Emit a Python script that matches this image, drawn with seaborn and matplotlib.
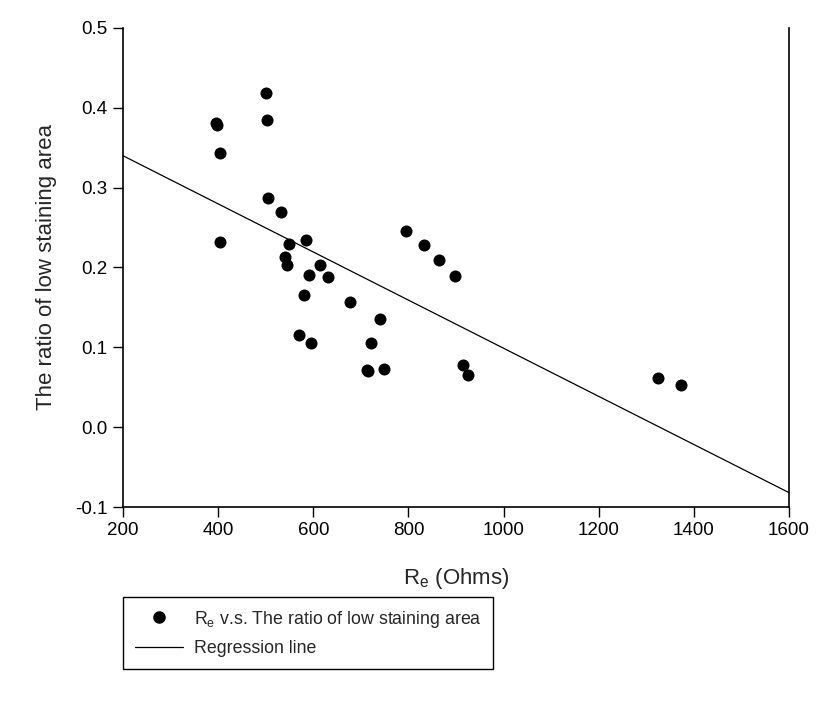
import matplotlib
matplotlib.use("Agg")
import matplotlib.pyplot as plt
import seaborn as sns
import pandas as pd
from matplotlib.lines import Line2D

# Data
re_ohms = [396, 397, 404, 403, 500, 502, 504, 532, 540, 545, 549, 584, 590, 580,
           570, 595, 615, 630, 678, 713, 715, 722, 740, 748, 795, 833, 865, 897,
           915, 925, 1325, 1372]
low_ratio = [0.381, 0.378, 0.344, 0.232, 0.418, 0.385, 0.287, 0.270, 0.213, 0.203,
             0.229, 0.235, 0.190, 0.165, 0.115, 0.105, 0.203, 0.188, 0.157, 0.072,
             0.070, 0.106, 0.136, 0.073, 0.246, 0.228, 0.210, 0.189, 0.078, 0.065,
             0.062, 0.053]
reg_x = [200, 1600]
reg_y = [0.340, -0.082]
x_ticks = [200, 400, 600, 800, 1000, 1200, 1400, 1600]
y_ticks = [-0.1, 0.0, 0.1, 0.2, 0.3, 0.4, 0.5]

sns.set_style("white")
plt.rcParams['font.family'] = ['Liberation Sans', 'DejaVu Sans']
plt.rcParams['mathtext.fontset'] = 'custom'
plt.rcParams['mathtext.rm'] = 'Liberation Sans'
plt.rcParams['mathtext.it'] = 'Liberation Sans'

fig = plt.figure(figsize=(8.39, 7.01), dpi=100)
ax = fig.add_axes([123/839, 1-507/701, (789-123)/839, (507-28)/701])

df = pd.DataFrame({"x": re_ohms, "y": low_ratio})
dreg = pd.DataFrame({"x": reg_x, "y": reg_y})
sns.scatterplot(data=df, x="x", y="y", ax=ax, color="black", s=75,
                edgecolor="black", linewidth=0, zorder=3)
sns.lineplot(data=dreg, x="x", y="y", ax=ax, color="black", linewidth=0.9)

ax.set_xlim(200, 1600)
ax.set_ylim(-0.1, 0.5)
ax.set_xticks(x_ticks)
ax.set_yticks(y_ticks)
ax.set_xticklabels([str(v) for v in x_ticks])
ax.set_yticklabels([f"{v:.1f}" for v in y_ticks])
ax.tick_params(axis='both', direction='out', length=7, width=1, labelsize=13.5,
               colors='black', left=True, bottom=True, pad=4)
for side in ['left', 'bottom', 'right']:
    ax.spines[side].set_visible(True)
    ax.spines[side].set_color('black')
    ax.spines[side].set_linewidth(1.2)
ax.spines['top'].set_visible(False)

ax.set_xlabel(r"$\mathrm{R_e}$ (Ohms)", fontsize=16, labelpad=19)
ax.set_ylabel("The ratio of low staining area", fontsize=16, labelpad=13)

handles = [
    Line2D([], [], marker='o', color='black', linestyle='None', markersize=8),
    Line2D([], [], color='black', linewidth=0.9),
]
labels = [r"$\mathrm{R_e}$ v.s. The ratio of low staining area", "Regression line"]
leg = fig.legend(handles, labels, loc='upper left',
                 bbox_to_anchor=(123/839, 1-597/701), frameon=True,
                 fancybox=False, framealpha=1, edgecolor='black',
                 fontsize=12.8, borderpad=0.65, handlelength=2.7,
                 handletextpad=0.65, labelspacing=0.6, borderaxespad=0)
leg.get_frame().set_linewidth(1.0)

fig.savefig("out.png", dpi=100)
